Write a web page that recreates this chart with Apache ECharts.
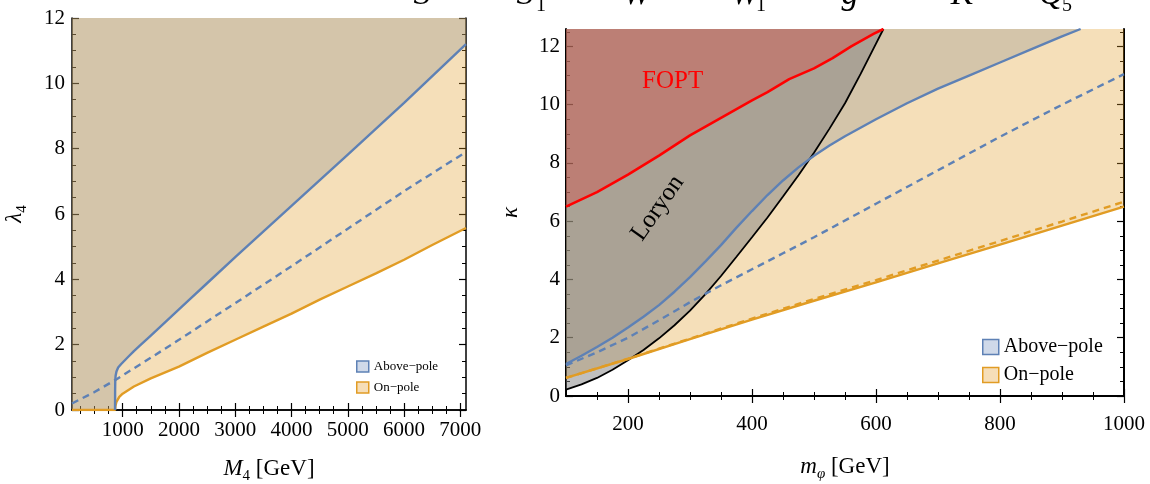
<!DOCTYPE html>
<html>
<head>
<meta charset="utf-8">
<script src="https://cdn.jsdelivr.net/npm/echarts@6/dist/echarts.min.js"></script>
<style>
  html, body { margin: 0; padding: 0; background: #ffffff; }
  #chart { width: 1150px; height: 484px; }
</style>
</head>
<body>
<div id="chart"></div>
<script>
// ---------- tick values ----------
const leftMassTicks = [1000, 2000, 3000, 4000, 5000, 6000, 7000];
const leftMassMinor = [];
for (let v = 250; v <= 7000; v += 250) leftMassMinor.push(v);
const leftLambdaTicks = [0, 2, 4, 6, 8, 10, 12];
const leftLambdaMinor = [];
for (let v = 0.5; v < 12; v += 0.5) leftLambdaMinor.push(v);

const rightMassTicks = [200, 400, 600, 800, 1000];
const rightMassMinor = [];
for (let v = 150; v < 1000; v += 50) rightMassMinor.push(v);
const rightKappaTicks = [0, 2, 4, 6, 8, 10, 12];
const rightKappaMinor = [];
for (let v = 0.5; v < 12.6; v += 0.5) rightKappaMinor.push(v);

// ---------- left panel: lambda_4 versus M_4 [GeV] ----------
const leftOnPole = [[100, 0], [865, 0], [872, 0.12], [890, 0.25], [940, 0.40], [1000, 0.50],
  [1200, 0.72], [1500, 0.97], [2000, 1.33], [2500, 1.75], [3000, 2.15], [3500, 2.55],
  [4000, 2.95], [4500, 3.38], [5000, 3.78], [5500, 4.18], [6000, 4.6], [6500, 5.05], [7100, 5.57]];
const leftAbovePole = [[865, 0], [866, 0.6], [869, 0.9], [875, 1.05], [890, 1.18], [920, 1.3],
  [970, 1.4], [1000, 1.46], [1100, 1.63], [1200, 1.8], [1300, 1.96], [1500, 2.28], [1700, 2.6],
  [2000, 3.08], [2200, 3.4], [2500, 3.88], [3000, 4.68], [4000, 6.25], [5000, 7.82], [6000, 9.4], [7100, 11.2]];
const leftAbovePoleDashed = [[100, 0.2], [500, 0.55], [900, 0.95], [1500, 1.6], [2000, 2.15],
  [3000, 3.27], [4000, 4.4], [5000, 5.55], [6000, 6.7], [7100, 7.9]];

// ---------- right panel: kappa versus m_phi [GeV] ----------
const rightFOPT = [[100, 6.5], [150, 7.0], [200, 7.6], [250, 8.25], [300, 8.95], [350, 9.55],
  [400, 10.15], [425, 10.43], [460, 10.88], [500, 11.25], [530, 11.6], [560, 12.0], [596, 12.43], [612, 12.6]];
const rightLoryon = [[100, 0.22], [125, 0.4], [150, 0.62], [175, 0.9], [200, 1.23], [225, 1.58],
  [250, 1.98], [275, 2.43], [300, 2.93], [325, 3.5], [350, 4.12], [375, 4.78], [400, 5.45],
  [425, 6.13], [450, 6.85], [475, 7.58], [500, 8.35], [525, 9.18], [550, 10.05], [575, 11.05],
  [600, 12.1], [612, 12.6]];
const rightAbovePole = [[100, 1.1], [125, 1.38], [150, 1.68], [175, 2.0], [200, 2.35], [225, 2.72],
  [250, 3.12], [275, 3.58], [300, 4.08], [325, 4.62], [350, 5.18], [375, 5.78], [400, 6.35],
  [425, 6.9], [450, 7.4], [475, 7.85], [500, 8.25], [525, 8.6], [550, 8.92], [600, 9.5],
  [650, 10.05], [700, 10.55], [750, 11.0], [800, 11.45], [850, 11.9], [900, 12.35], [930, 12.6]];
const rightAbovePoleDashed = [[100, 1.05], [150, 1.5], [200, 2.0], [250, 2.6], [300, 3.22],
  [350, 3.8], [400, 4.35], [450, 4.9], [500, 5.45], [600, 6.6], [700, 7.75], [800, 8.9], [900, 10.0], [1000, 11.05]];
const rightOnPole = [[100, 0.62], [200, 1.27], [300, 1.95], [400, 2.62], [500, 3.27], [600, 3.9],
  [700, 4.55], [800, 5.2], [900, 5.85], [1000, 6.5]];
const rightOnPoleDashed = [[100, 0.62], [200, 1.28], [300, 1.97], [400, 2.66], [500, 3.33],
  [600, 3.98], [700, 4.65], [800, 5.32], [900, 5.99], [1000, 6.67]];

// ---------- header row of model symbols (clipped at the top edge) ----------
const headerSymbols = ['S', 'S', 'W', 'W', 'g', 'K', 'Q'];
const headerSubscripts = ['', '1', '', '1', '', '', '5'];
const headerX = [422, 525, 637, 745, 850, 962, 1051];

// ---------- styling ----------
const FONT = 'Liberation Serif';
const BLUE = '#5e81b5';
const ORANGE = '#e19c24';
const BLUE_FILL = 'rgba(94,129,181,0.30)';
const ORANGE_FILL = 'rgba(225,156,36,0.32)';
const GREY_FILL = 'rgba(128,128,128,0.50)';
const RED_FILL = 'rgba(255,0,0,0.21)';
const ABOVE = 'Above\u2212pole';
const ON = 'On\u2212pole';

function frameAxes(cfg) {
  // one labelled side with major + minor ticks, and a mirrored unlabelled side
  const sideA = cfg.dim === 'x' ? 'bottom' : 'left';
  const sideB = cfg.dim === 'x' ? 'top' : 'right';
  const base = {
    type: 'value', gridIndex: cfg.grid, min: cfg.min, max: cfg.max,
    splitLine: { show: false }, axisPointer: { show: false }
  };
  const line = { show: true, lineStyle: { color: '#000', width: cfg.lineWidth } };
  const noLine = { show: false };
  return [
    Object.assign({}, base, {
      position: sideA,
      axisLine: line,
      axisTick: { show: true, inside: true, length: 7, customValues: cfg.majors, lineStyle: { color: '#000', width: 1.2 } },
      axisLabel: {
        show: true, customValues: cfg.labels, margin: cfg.labelMargin,
        color: '#000', fontFamily: FONT, fontSize: 21,
        formatter: function (v) { return String(v); }
      },
      name: cfg.name, nameLocation: 'middle', nameGap: cfg.nameGap,
      nameRotate: cfg.dim === 'y' ? 90 : 0,
      nameTextStyle: {
        color: '#000', fontFamily: FONT, fontSize: 23,
        rich: {
          i: { fontFamily: FONT, fontSize: 23, fontStyle: 'italic', color: '#000', lineHeight: 30, verticalAlign: 'middle' },
          s: { fontFamily: FONT, fontSize: 15, fontStyle: 'italic', color: '#000', lineHeight: 30, verticalAlign: 'bottom' },
          n: { fontFamily: FONT, fontSize: 15, color: '#000', lineHeight: 30, verticalAlign: 'bottom' },
          r: { fontFamily: FONT, fontSize: 23, color: '#000', lineHeight: 30, verticalAlign: 'middle' }
        }
      }
    }),
    Object.assign({}, base, {
      position: sideA, axisLine: noLine, axisLabel: { show: false },
      axisTick: { show: true, inside: true, length: 4, customValues: cfg.minors, lineStyle: { color: '#000', width: 1 } }
    }),
    Object.assign({}, base, {
      position: sideB, axisLine: line, axisLabel: { show: false },
      axisTick: { show: true, inside: true, length: 7, customValues: cfg.majors, lineStyle: { color: '#000', width: 1.2 } }
    }),
    Object.assign({}, base, {
      position: sideB, axisLine: noLine, axisLabel: { show: false },
      axisTick: { show: true, inside: true, length: 4, customValues: cfg.minors, lineStyle: { color: '#000', width: 1 } }
    })
  ];
}

const xAxes = [].concat(
  frameAxes({ dim: 'x', grid: 0, min: 100, max: 7100, majors: leftMassTicks, minors: leftMassMinor,
    labels: leftMassTicks, name: '{i|M}{n|4}{r| [GeV]}', nameGap: 44, labelMargin: 10, lineWidth: 1.5 }),
  frameAxes({ dim: 'x', grid: 1, min: 100, max: 1000, majors: rightMassTicks, minors: rightMassMinor,
    labels: rightMassTicks, name: '{i|m}{s|\u03c6}{r| [GeV]}', nameGap: 56, labelMargin: 18, lineWidth: 2 })
);
const yAxes = [].concat(
  frameAxes({ dim: 'y', grid: 0, min: 0, max: 12, majors: leftLambdaTicks, minors: leftLambdaMinor,
    labels: leftLambdaTicks, name: '{i|\u03bb}{n|4}', nameGap: 42, labelMargin: 7, lineWidth: 1.5 }),
  frameAxes({ dim: 'y', grid: 1, min: 0, max: 12.6, majors: rightKappaTicks, minors: rightKappaMinor,
    labels: rightKappaTicks, name: '{i|\u03ba}', nameGap: 40, labelMargin: 6, lineWidth: 2 })
);

function fill(name, data, color, axis) {
  return {
    name: name, type: 'line', data: data, xAxisIndex: axis, yAxisIndex: axis,
    showSymbol: false, symbol: 'none', silent: true,
    lineStyle: { width: 0 }, itemStyle: { color: color },
    areaStyle: { origin: 'end', color: color, opacity: 1 }
  };
}
function curve(name, data, color, width, dashed, axis) {
  return {
    name: name, type: 'line', data: data, xAxisIndex: axis, yAxisIndex: axis,
    showSymbol: false, symbol: 'none', silent: true,
    lineStyle: { color: color, width: width, type: dashed ? [7, 5] : 'solid' },
    itemStyle: { color: color }
  };
}

const series = [
  // left panel
  fill(ABOVE, [[100, 0]].concat(leftAbovePole), BLUE_FILL, 0),
  fill(ON, leftOnPole, ORANGE_FILL, 0),
  curve('above-pole dashed (left)', leftAbovePoleDashed, BLUE, 2.4, true, 0),
  curve('on-pole (left)', leftOnPole, ORANGE, 2.4, false, 0),
  curve('above-pole (left)', leftAbovePole, BLUE, 2.4, false, 0),
  // right panel
  fill(ABOVE, rightAbovePole, BLUE_FILL, 4),
  fill(ON, rightOnPole, ORANGE_FILL, 4),
  fill('Loryon', rightLoryon, GREY_FILL, 4),
  fill('FOPT', rightFOPT, RED_FILL, 4),
  curve('Loryon boundary', rightLoryon, '#000', 1.8, false, 4),
  curve('on-pole dashed (right)', rightOnPoleDashed, ORANGE, 2.4, true, 4),
  curve('on-pole (right)', rightOnPole, ORANGE, 2.4, false, 4),
  curve('above-pole dashed (right)', rightAbovePoleDashed, BLUE, 2.4, true, 4),
  curve('above-pole (right)', rightAbovePole, BLUE, 2.4, false, 4),
  curve('FOPT boundary', rightFOPT, '#ff0000', 2.6, false, 4)
];

function legendFor(left, top, box, fontSize, lineHeight, gap) {
  return {
    orient: 'vertical', left: left, top: top, itemWidth: box, itemHeight: box - 1, itemGap: gap,
    selectedMode: false, padding: 0,
    textStyle: { fontFamily: FONT, fontSize: fontSize, color: '#000', lineHeight: lineHeight },
    data: [
      { name: ABOVE, icon: 'rect', itemStyle: { color: '#cfd9e9', borderColor: BLUE, borderWidth: 1.5 } },
      { name: ON, icon: 'rect', itemStyle: { color: '#f6deb8', borderColor: ORANGE, borderWidth: 1.5 } }
    ]
  };
}

const chart = echarts.init(document.getElementById('chart'), null, { renderer: 'canvas' });
chart.setOption({
  animation: false,
  backgroundColor: '#ffffff',
  grid: [
    { left: 72, top: 18, width: 394, height: 392, outerBoundsMode: 'none', containLabel: false },
    { left: 566, top: 29, width: 558, height: 367, outerBoundsMode: 'none', containLabel: false }
  ],
  xAxis: xAxes,
  yAxis: yAxes,
  legend: [legendFor(356, 360, 12, 13, 13, 8), legendFor(982, 337, 16, 20, 18, 8)],
  series: series
});

// in-plot region labels, placed in data coordinates of the right panel
const foptPos = chart.convertToPixel({ xAxisIndex: 4, yAxisIndex: 4 }, [272, 10.8]);
const loryonPos = chart.convertToPixel({ xAxisIndex: 4, yAxisIndex: 4 }, [248, 6.45]);

const graphics = [
  {
    type: 'text', x: foptPos[0], y: foptPos[1], z: 100,
    style: { text: 'FOPT', font: '25px "Liberation Serif"', fill: '#ff0000', textAlign: 'center', textVerticalAlign: 'middle' }
  },
  {
    type: 'text', x: loryonPos[0], y: loryonPos[1], rotation: 55 * Math.PI / 180, z: 100,
    style: { text: 'Loryon', font: '25px "Liberation Serif"', fill: '#000', textAlign: 'center', textVerticalAlign: 'middle' }
  }
];
headerSymbols.forEach(function (s, i) {
  graphics.push({
    type: 'text', x: headerX[i], y: 12, z: 100,
    style: { text: s, font: 'italic 34px "Liberation Serif"', fill: '#000', textAlign: 'center', textVerticalAlign: 'bottom' }
  });
  if (headerSubscripts[i]) {
    graphics.push({
      type: 'text', x: headerX[i] + 16, y: 16, z: 100,
      style: { text: headerSubscripts[i], font: '20px "Liberation Serif"', fill: '#000', textAlign: 'center', textVerticalAlign: 'bottom' }
    });
  }
});
chart.setOption({ graphic: graphics });
</script>
</body>
</html>
